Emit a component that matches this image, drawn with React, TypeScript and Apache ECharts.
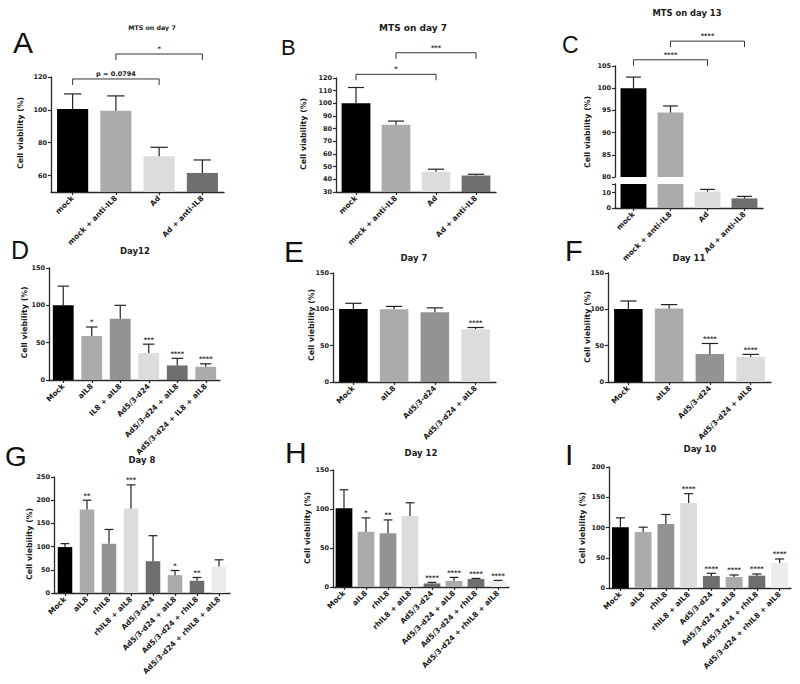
import React, { useEffect, useRef } from "react";
import * as echarts from "echarts";

// ---------- data ----------
const catsMTS = ["mock", "mock + anti-IL8", "Ad", "Ad + anti-IL8"];
const meanA = [100.5, 99.5, 71.7, 61.6];
const sdA = [9.2, 9.0, 5.5, 7.9];
const meanB = [100, 83, 46, 43];
const sdB = [12.5, 3, 2, 1];
const meanC = [100, 94.5, 10.6, 6.2];
const sdC = [2.5, 1.5, 1.4, 1.3];

const catsD = ["Mock", "aIL8", "IL8 + aIL8", "Ad5/3-d24", "Ad5/3-d24 + aIL8", "Ad5/3-d24 + IL8 + aIL8"];
const meanD = [100, 59, 82, 36, 19.5, 17.7];
const sdD = [25.7, 12, 18, 12, 9.5, 4];
const starsD = ["", "*", "", "***", "****", "****"];

const catsEF = ["Mock", "aIL8", "Ad5/3-d24", "Ad5/3-d24 + aIL8"];
const meanE = [100.5, 100, 96, 72.6];
const sdE = [7.8, 4, 6, 2.4];
const starsE = ["", "", "", "****"];
const meanF = [100.5, 101, 38.5, 34.7];
const sdF = [11, 5.5, 14.5, 3.3];
const starsF = ["", "", "****", "****"];

const catsGHI = ["Mock", "aIL8", "rhIL8", "rhIL8 + aIL8", "Ad5/3-d24", "Ad5/3-d24 + aIL8", "Ad5/3-d24 + rhIL8", "Ad5/3-d24 + rhIL8 + aIL8"];
const meanG = [99, 180, 106, 182, 68.5, 38.5, 26.4, 57];
const sdG = [7.4, 20, 31, 51, 55, 10, 7.1, 14.5];
const starsG = ["", "**", "", "***", "", "*", "**", ""];
const meanH = [101, 70.7, 69, 91, 4.6, 7.7, 10.2, 7.5];
const sdH = [23.6, 17.9, 17, 17, 1.3, 4.6, 0.8, 1];
const starsH = ["", "*", "**", "", "****", "****", "****", "****"];
const meanI = [100.5, 92.4, 105.6, 140.4, 19.9, 18.2, 20.4, 41.4];
const sdI = [15.5, 8.1, 15.9, 15.5, 4.4, 3.3, 2.8, 6.6];
const starsI = ["", "", "", "****", "****", "****", "****", "****"];

const ticksA = [60, 80, 100, 120];
const ticksCLow = [0, 10];

const bracketsA = [
  { from: 0, to: 2, at: 118.8, label: "p = 0.0794" },
  { from: 1, to: 3, at: 134, label: "*" },
];
const bracketsB = [
  { from: 0, to: 2, at: 122.9, label: "*" },
  { from: 1, to: 3, at: 139.9, label: "***" },
];
const bracketsC = [
  { from: 0, to: 2, at: 106.4, label: "****" },
  { from: 1, to: 3, at: 110.6, label: "****" },
];

const titles = ["MTS on day 7", "MTS on day 7", "MTS on day 13", "Day12", "Day 7", "Day 11", "Day 8", "Day 12", "Day 10"];
const letters = ["A", "B", "C", "D", "E", "F", "G", "H", "I"];
const yNameMTS = "Cell viability (%)";
const yNameDay = "Cell viebility (%)";

// ---------- styles ----------
const K = "#000000", L = "#ababab", M = "#939393", VL = "#dcdcdc", DK = "#6e6e6e", XL = "#ececec";
const colMTS = [K, L, VL, DK];
const colD = [K, L, M, VL, DK, L];
const colEF = [K, L, M, VL];
const colGHI = [K, L, M, VL, DK, L, DK, XL];
const AX = "#2a2a2a";
const FONT = '"DejaVu Sans", sans-serif';

type Bracket = { from: number; to: number; at: number; label: string };
type Panel = {
  cats: string[];
  means: number[];
  sds: number[];
  stars?: string[];
  colors: string[];
  box: { left: number; top: number; width: number; height: number };
  min: number;
  max: number;
  interval?: number;
  tickValues?: number[];
  labelValues?: number[];
  gap: string;
  showX?: boolean;
  brackets?: Bracket[];
};

function buildOption() {
  const grids: any[] = [];
  const xAxes: any[] = [];
  const yAxes: any[] = [];
  const series: any[] = [];

  const addPanel = (p: Panel) => {
    const gi = grids.length;
    grids.push({ ...p.box, containLabel: false, outerBoundsMode: "none" });
    const showX = p.showX !== false;
    xAxes.push({
      type: "category",
      gridIndex: gi,
      data: p.cats,
      show: showX,
      axisLine: { show: showX, lineStyle: { color: AX, width: 1.3 } },
      axisTick: { show: showX, alignWithLabel: true, length: 3, lineStyle: { color: AX, width: 1.2 } },
      axisLabel: {
        show: showX,
        rotate: 45,
        interval: 0,
        fontSize: 7.5,
        fontWeight: "bold",
        fontFamily: FONT,
        color: "#1a1a1a",
        margin: 5,
      },
      splitLine: { show: false },
    });
    const y: any = {
      type: "value",
      gridIndex: gi,
      min: p.min,
      max: p.max,
      axisLine: { show: true, lineStyle: { color: AX, width: 1.3 } },
      axisTick: { show: true, length: 3, lineStyle: { color: AX, width: 1.2 } },
      axisLabel: {
        fontSize: 6.5,
        fontWeight: "bold",
        fontFamily: FONT,
        color: "#1a1a1a",
        margin: 4,
      },
      splitLine: { show: false },
    };
    if (p.interval) y.interval = p.interval;
    if (p.tickValues) y.axisTick.customValues = p.tickValues;
    if (p.labelValues) y.axisLabel.customValues = p.labelValues;
    yAxes.push(y);

    series.push({
      type: "bar",
      xAxisIndex: gi,
      yAxisIndex: gi,
      silent: true,
      clip: true,
      barCategoryGap: p.gap,
      z: 2,
      data: p.means.map((v, i) => ({ value: v, itemStyle: { color: p.colors[i] } })),
    });

    const errData = p.means
      .map((m, i) => [i, m, m + p.sds[i]])
      .filter((d) => d[1] >= p.min && d[2] <= p.max);
    series.push({
      type: "custom",
      xAxisIndex: gi,
      yAxisIndex: gi,
      silent: true,
      z: 3,
      data: errData,
      encode: { x: 0, y: [1, 2] },
      renderItem: (params: any, api: any) => {
        const i = api.value(0);
        const base = api.coord([i, api.value(1)]);
        const top = api.coord([i, api.value(2)]);
        const bw = api.size([1, 0])[0];
        const hw = bw * 0.2;
        const st = { stroke: "#222", lineWidth: 1.2 };
        const children: any[] = [
          { type: "line", shape: { x1: base[0], y1: base[1], x2: top[0], y2: top[1] }, style: st },
          { type: "line", shape: { x1: top[0] - hw, y1: top[1], x2: top[0] + hw, y2: top[1] }, style: st },
        ];
        const star = p.stars ? p.stars[i] : "";
        if (star) {
          children.push({
            type: "text",
            x: top[0],
            y: top[1] - 1,
            style: {
              text: star,
              fill: "#222",
              font: 'bold 6.5px "DejaVu Sans"',
              align: "center",
              verticalAlign: "bottom",
            },
          });
        }
        return { type: "group", children };
      },
    });

    if (p.brackets) {
      const brs = p.brackets;
      series.push({
        type: "custom",
        xAxisIndex: gi,
        yAxisIndex: gi,
        silent: true,
        z: 4,
        data: brs.map((b) => [b.from, b.to, b.at]),
        encode: { x: [0, 1], y: 2 },
        renderItem: (params: any, api: any) => {
          const a = api.coord([api.value(0), api.value(2)]);
          const b = api.coord([api.value(1), api.value(2)]);
          const st = { stroke: "#333", lineWidth: 1 };
          const lab = brs[params.dataIndex].label;
          return {
            type: "group",
            children: [
              { type: "line", shape: { x1: a[0], y1: a[1], x2: b[0], y2: b[1] }, style: st },
              { type: "line", shape: { x1: a[0], y1: a[1], x2: a[0], y2: a[1] + 6 }, style: st },
              { type: "line", shape: { x1: b[0], y1: b[1], x2: b[0], y2: b[1] + 6 }, style: st },
              {
                type: "text",
                x: (a[0] + b[0]) / 2,
                y: a[1] - 1.5,
                style: {
                  text: lab,
                  fill: "#222",
                  font: 'bold 6.5px "DejaVu Sans"',
                  align: "center",
                  verticalAlign: "bottom",
                },
              },
            ],
          };
        },
      });
    }
  };

  // A
  addPanel({ cats: catsMTS, means: meanA, sds: sdA, colors: colMTS, box: { left: 51, top: 77, width: 173, height: 115 }, min: 50, max: 120, tickValues: ticksA, labelValues: ticksA, gap: "28%", brackets: bracketsA });
  // B
  addPanel({ cats: catsMTS, means: meanB, sds: sdB, colors: colMTS, box: { left: 336, top: 78, width: 160, height: 114 }, min: 30, max: 120, interval: 10, gap: "28%", brackets: bracketsB });
  // C upper
  addPanel({ cats: catsMTS, means: meanC, sds: sdC, colors: colMTS, box: { left: 615, top: 66, width: 148, height: 111 }, min: 80, max: 105, interval: 5, gap: "30%", showX: false, brackets: bracketsC });
  // C lower
  addPanel({ cats: catsMTS, means: meanC, sds: sdC, colors: colMTS, box: { left: 615, top: 184, width: 148, height: 24 }, min: 0, max: 15.5, tickValues: [...ticksCLow, 15.5], labelValues: ticksCLow, gap: "30%" });
  // D
  addPanel({ cats: catsD, means: meanD, sds: sdD, stars: starsD, colors: colD, box: { left: 49, top: 268, width: 171, height: 112 }, min: 0, max: 150, interval: 50, gap: "27%" });
  // E
  addPanel({ cats: catsEF, means: meanE, sds: sdE, stars: starsE, colors: colEF, box: { left: 333, top: 273, width: 163, height: 109 }, min: 0, max: 150, interval: 50, gap: "30%" });
  // F
  addPanel({ cats: catsEF, means: meanF, sds: sdF, stars: starsF, colors: colEF, box: { left: 608, top: 273, width: 163, height: 109 }, min: 0, max: 150, interval: 50, gap: "30%" });
  // G
  addPanel({ cats: catsGHI, means: meanG, sds: sdG, stars: starsG, colors: colGHI, box: { left: 54, top: 477, width: 176, height: 116 }, min: 0, max: 250, interval: 50, gap: "34%" });
  // H
  addPanel({ cats: catsGHI, means: meanH, sds: sdH, stars: starsH, colors: colGHI, box: { left: 333, top: 470, width: 176, height: 117 }, min: 0, max: 150, interval: 50, gap: "24%" });
  // I
  addPanel({ cats: catsGHI, means: meanI, sds: sdI, stars: starsI, colors: colGHI, box: { left: 609, top: 467, width: 182, height: 121 }, min: 0, max: 200, interval: 50, gap: "26%" });

  // ---------- annotations (graphic) ----------
  const letterPos = [
    [13, 42.5, 30], [281, 47.5, 22], [562, 45, 23],
    [11, 249.5, 25], [284, 251.7, 30], [565, 251, 29],
    [5, 456.7, 28], [285, 452.5, 30], [565, 454, 30],
  ];
  const titlePos = [
    [152, 27, 6.3], [413, 28, 9], [687, 12.5, 8.4],
    [135, 251, 8.5], [414, 257.7, 8.5], [689, 257.7, 8.5],
    [142, 460, 8.5], [421, 452.5, 8.5], [700, 449, 8.5],
  ];
  const yNamePos = [
    [20, 133], [303, 134], [587, 132],
    [24, 322.5], [311, 325], [587, 327],
    [29, 544], [307, 528], [582, 528],
  ];
  const graphics: any[] = [];
  letters.forEach((t, i) => {
    const [x, y, s] = letterPos[i];
    graphics.push({
      type: "text",
      x,
      y,
      style: { text: t, fill: "#111", font: `${s}px "Liberation Sans"`, align: "left", verticalAlign: "middle" },
    });
  });
  titles.forEach((t, i) => {
    const [x, y, s] = titlePos[i];
    graphics.push({
      type: "text",
      x,
      y,
      style: { text: t, fill: "#1a1a1a", font: `bold ${s}px "DejaVu Sans"`, align: "center", verticalAlign: "middle" },
    });
  });
  yNamePos.forEach(([x, y], i) => {
    graphics.push({
      type: "text",
      x,
      y,
      rotation: Math.PI / 2,
      style: {
        text: i < 3 ? yNameMTS : yNameDay,
        fill: "#1a1a1a",
        font: 'bold 7.8px "DejaVu Sans"',
        align: "center",
        verticalAlign: "middle",
      },
    });
  });

  return {
    animation: false,
    backgroundColor: "#ffffff",
    grid: grids,
    xAxis: xAxes,
    yAxis: yAxes,
    series,
    graphic: graphics,
  };
}

export default function App() {
  const ref = useRef<HTMLDivElement>(null);
  useEffect(() => {
    if (!ref.current) return;
    const chart = echarts.init(ref.current, null, { renderer: "svg", width: 800, height: 684 });
    chart.setOption(buildOption() as any);
    return () => chart.dispose();
  }, []);
  return (
    <div
      ref={ref}
      style={{ position: "absolute", left: 0, top: 0, width: 800, height: 684, background: "#fff" }}
    />
  );
}
